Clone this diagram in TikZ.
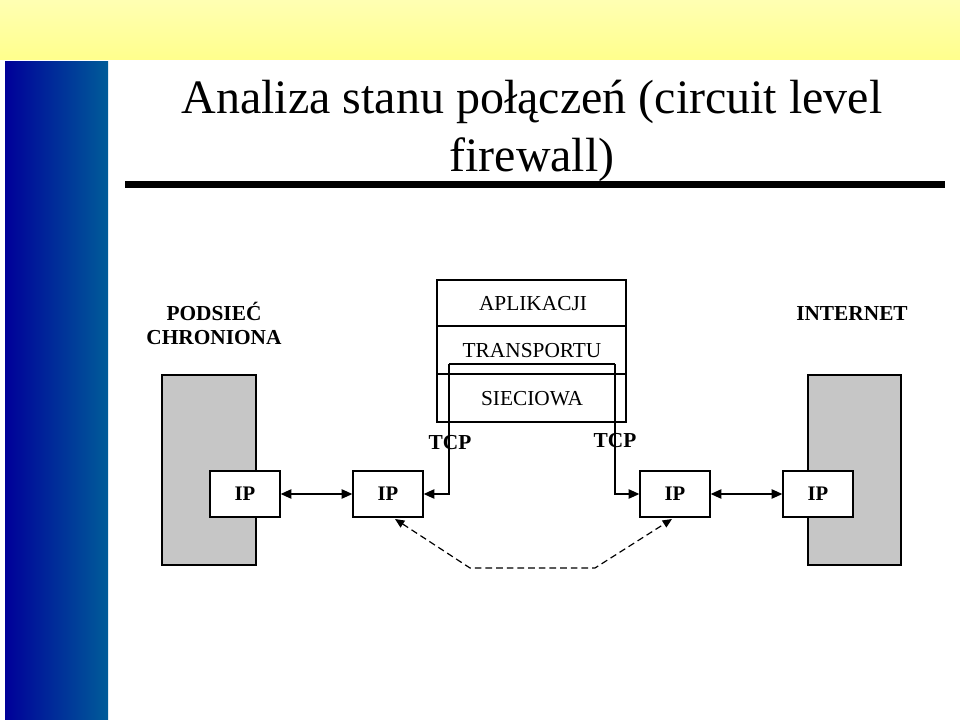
\documentclass[tikz,border=0pt]{standalone}
\usepackage{fontspec}
\setmainfont{Liberation Serif}
\usetikzlibrary{arrows.meta}
\begin{document}
\begin{tikzpicture}[x=0.75pt,y=-0.75pt,
  ipbox/.style={draw,line width=1pt,fill=white,minimum width=70*0.75pt,minimum height=46*0.75pt,font=\bfseries\fontsize{15.5}{17}\selectfont},
  host/.style={draw,line width=1pt,fill=gray!45},
  conn/.style={line width=1pt,-{Triangle[length=8pt,width=7pt]}},
  lab/.style={font=\bfseries\fontsize{16}{18}\selectfont,align=center},
  stk/.style={font=\fontsize{16}{18}\selectfont}]
\useasboundingbox (0,0) rectangle (960,720);
\fill[white] (0,0) rectangle (960,720);
\shade[top color=yellow!30,bottom color=yellow!45] (0,0) rectangle (960,60);
\shade[left color=blue!60!black,right color=blue!40!cyan!60!black] (5,62) rectangle (108,720);
\node[font=\fontsize{36}{43}\selectfont,align=center] (title) at (532,131) {Analiza stanu połączeń (circuit level\\firewall)};
\fill (125,181) rectangle (945,188);
\node[lab] (pod) at (214,323) {PODSIEĆ\\CHRONIONA};
\node[lab] (inet) at (852,314) {INTERNET};
\draw[host] (162,375) rectangle (256,565);
\draw[host] (808,375) rectangle (901,565);
\draw[line width=1pt] (437,280) rectangle (626,422);
\draw[line width=2pt] (437,326) -- (626,326);
\draw[line width=2pt] (437,374) -- (626,374);
\node[stk] (apl) at (533,304) {APLIKACJI};
\node[stk] (tr) at (532,351) {TRANSPORTU};
\node[stk] (sie) at (532,399) {SIECIOWA};
\node[ipbox] (ip1) at (245,494) {IP};
\node[ipbox] (ip2) at (388,494) {IP};
\node[ipbox] (ip3) at (675,494) {IP};
\node[ipbox] (ip4) at (818,494) {IP};
\draw[line width=1pt,{Triangle[length=8pt,width=7pt]}-{Triangle[length=8pt,width=7pt]}] (ip1) -- (ip2);
\draw[line width=1pt,{Triangle[length=8pt,width=7pt]}-{Triangle[length=8pt,width=7pt]}] (ip3) -- (ip4);
\coordinate (a) at (449,364);
\coordinate (b) at (615,364);
\draw[conn] (a) -- (449,494) -- (ip2.east);
\draw[conn] (b) -- (615,494) -- (ip3.west);
\draw[line width=1pt] (a) -- (b);
\node[lab] (t1) at (450,443) {TCP};
\node[lab] (t2) at (615,441) {TCP};
\coordinate (d1) at (470,568);
\coordinate (d2) at (595,568);
\draw[line width=0.9pt,dash pattern=on 5pt off 3pt,{Triangle[length=7pt,width=6pt]}-{Triangle[length=7pt,width=6pt]}] (395,519) -- (d1) -- (d2) -- (672,519);
\end{tikzpicture}
\end{document}
